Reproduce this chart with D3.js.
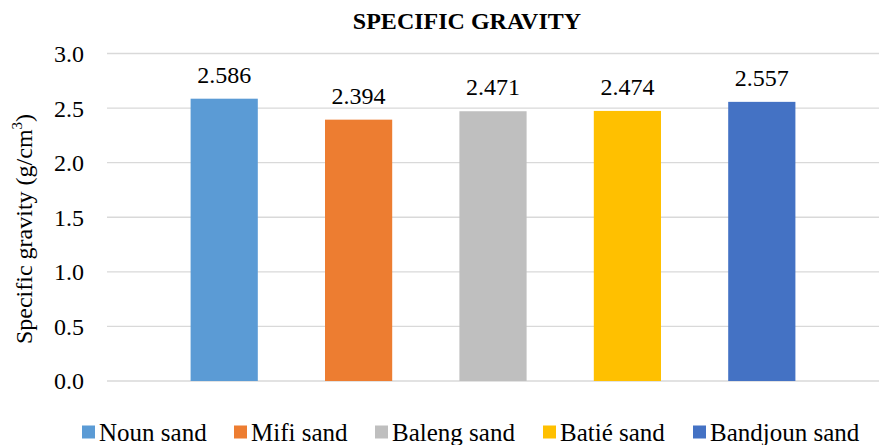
<!DOCTYPE html>
<html><head><meta charset="utf-8">
<script src="https://cdn.jsdelivr.net/npm/d3@7"></script>
<style>body{margin:0;background:#fff}svg{display:block}</style>
</head><body>
<script>
const categories = ["Noun sand","Mifi sand","Baleng sand","Batié sand","Bandjoun sand"];
const values = [2.586, 2.394, 2.471, 2.474, 2.557];
const colors = ["#5B9BD5","#ED7D31","#BFBFBF","#FFC000","#4472C4"];
const yTicks = [0,0.5,1.0,1.5,2.0,2.5,3.0];

const W=879,H=445;
const FF='"Liberation Serif"';
const svg=d3.select("body").append("svg").attr("width",W).attr("height",H);

const y=d3.scaleLinear().domain([0,3]).range([381,53.5]);
const x=d3.scaleBand().domain(categories).range([157,829]).paddingInner(0.5).paddingOuter(0.25);

svg.append("text").attr("x",467).attr("y",29).attr("text-anchor","middle")
  .style("font-family",FF).attr("font-weight","bold").attr("font-size",24).text("SPECIFIC GRAVITY");

const yAxis=d3.axisLeft(y).tickValues(yTicks).tickFormat(d3.format(".1f")).tickSize(0).tickPadding(0);
const gy=svg.append("g").attr("transform","translate(84,0)").call(yAxis);
gy.select(".domain").remove();
gy.selectAll("text").style("font-family",FF).attr("font-size",24).attr("fill","#000").attr("dy","0.33em");

svg.append("g").selectAll("line").data(yTicks).join("line")
  .attr("x1",107).attr("x2",879).attr("y1",d=>y(d)).attr("y2",d=>y(d))
  .attr("stroke","#D9D9D9").attr("stroke-width",1.3);

svg.append("g").selectAll("rect").data(values).join("rect")
  .attr("x",(d,i)=>x(categories[i])).attr("width",x.bandwidth())
  .attr("y",d=>y(d)).attr("height",d=>y(0)-y(d)).attr("fill",(d,i)=>colors[i]);

svg.append("g").selectAll("text").data(values).join("text")
  .attr("x",(d,i)=>x(categories[i])+x.bandwidth()/2).attr("y",d=>y(d)-16)
  .attr("text-anchor","middle").style("font-family",FF).attr("font-size",24)
  .text(d=>d3.format(".3f")(d));

const yl=svg.append("text").attr("transform","translate(32,229) rotate(-90)")
  .attr("text-anchor","middle").style("font-family",FF).attr("font-size",24);
yl.append("tspan").text("Specific gravity (g/cm");
yl.append("tspan").attr("font-size",15).attr("dy",-10).text("3");
yl.append("tspan").attr("dy",10).text(")");

const legX=[82,234,375,543,693];
const lg=svg.append("g").selectAll("g").data(categories).join("g")
  .attr("transform",(d,i)=>`translate(${legX[i]},0)`);
lg.append("rect").attr("x",0).attr("y",425.5).attr("width",13).attr("height",13).attr("fill",(d,i)=>colors[i]);
lg.append("text").attr("x",17).attr("y",441).style("font-family",FF).attr("font-size",25).text(d=>d);
</script>
</body></html>
